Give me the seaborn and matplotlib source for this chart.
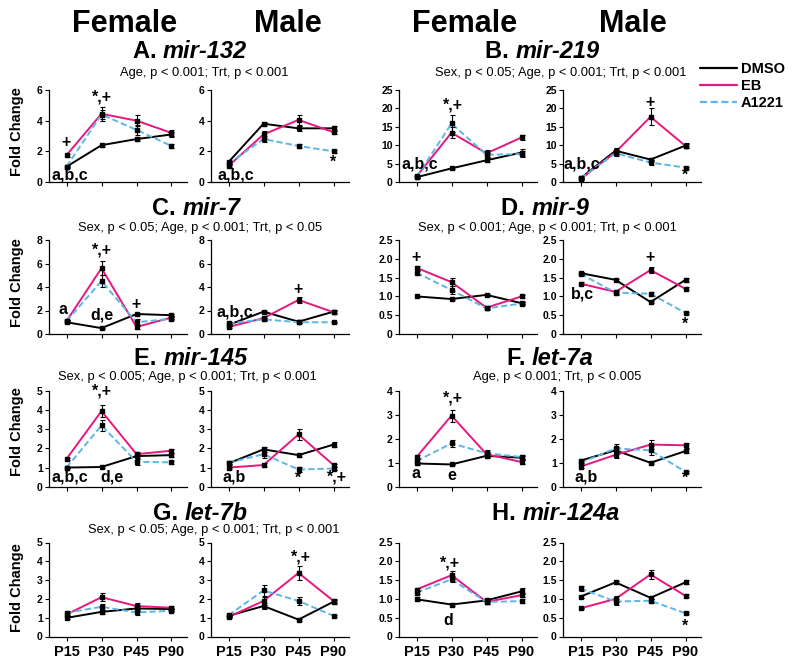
import numpy as np
import pandas as pd
import matplotlib
matplotlib.use("Agg")
import matplotlib.pyplot as plt
import seaborn as sns
from matplotlib.lines import Line2D

# Ages en traitements
ages = ["P15", "P30", "P45", "P90"]
treatments = ["DMSO", "EB", "A1221"]

# Fold change (rows: DMSO, EB, A1221) and SEM
mir132_f = [[1.0, 2.4, 2.8, 3.1], [1.75, 4.45, 4.0, 3.2], [1.0, 4.4, 3.4, 2.35]]
mir132_f_se = [[0.08, 0.1, 0.12, 0.15], [0.1, 0.45, 0.35, 0.2], [0.05, 0.3, 0.35, 0.1]]
mir132_m = [[1.3, 3.8, 3.5, 3.5], [1.05, 3.1, 4.05, 3.25], [1.2, 2.8, 2.35, 2.0]]
mir132_m_se = [[0.1, 0.12, 0.15, 0.15], [0.1, 0.2, 0.3, 0.15], [0.1, 0.2, 0.15, 0.08]]

mir219_f = [[1.3, 3.7, 5.9, 8.0], [1.5, 13.4, 7.8, 12.1], [1.3, 15.9, 7.4, 7.6]]
mir219_f_se = [[0.3, 0.3, 0.5, 1.0], [0.4, 1.5, 1.0, 0.8], [0.3, 2.2, 0.6, 0.8]]
mir219_m = [[1.0, 8.5, 6.1, 9.9], [0.8, 8.1, 17.7, 9.8], [1.0, 7.8, 5.3, 3.9]]
mir219_m_se = [[0.3, 0.8, 0.5, 0.6], [0.3, 0.6, 2.3, 0.6], [0.3, 0.8, 0.6, 0.3]]

mir7_f = [[1.0, 0.5, 1.7, 1.6], [1.1, 5.6, 0.6, 1.4], [1.1, 4.5, 1.0, 1.3]]
mir7_f_se = [[0.1, 0.05, 0.1, 0.1], [0.1, 0.6, 0.15, 0.15], [0.1, 0.5, 0.25, 0.15]]
mir7_m = [[0.77, 1.9, 1.05, 1.9], [0.6, 1.35, 2.9, 1.85], [0.9, 1.25, 1.0, 1.0]]
mir7_m_se = [[0.1, 0.1, 0.1, 0.15], [0.1, 0.15, 0.25, 0.15], [0.1, 0.15, 0.1, 0.05]]

mir9_f = [[1.0, 0.93, 1.04, 0.82], [1.76, 1.38, 0.7, 1.0], [1.63, 1.17, 0.68, 0.81]]
mir9_f_se = [[0.02, 0.02, 0.02, 0.03], [0.05, 0.1, 0.03, 0.03], [0.05, 0.1, 0.03, 0.03]]
mir9_m = [[1.62, 1.44, 0.85, 1.44], [1.34, 1.12, 1.7, 1.2], [1.6, 1.1, 1.07, 0.56]]
mir9_m_se = [[0.04, 0.03, 0.03, 0.05], [0.03, 0.05, 0.07, 0.04], [0.04, 0.05, 0.05, 0.02]]

mir145_f = [[1.0, 1.03, 1.6, 1.65], [1.45, 3.95, 1.7, 1.88], [1.0, 3.2, 1.3, 1.27]]
mir145_f_se = [[0.03, 0.03, 0.1, 0.12], [0.05, 0.3, 0.1, 0.1], [0.03, 0.3, 0.15, 0.07]]
mir145_m = [[1.22, 1.95, 1.65, 2.2], [1.0, 1.13, 2.73, 1.13], [1.25, 1.7, 0.9, 0.95]]
mir145_m_se = [[0.08, 0.12, 0.08, 0.12], [0.05, 0.1, 0.3, 0.08], [0.08, 0.2, 0.12, 0.1]]

let7a_f = [[0.97, 0.93, 1.29, 1.21], [1.24, 2.97, 1.36, 1.03], [1.07, 1.81, 1.4, 1.24]]
let7a_f_se = [[0.08, 0.03, 0.08, 0.08], [0.1, 0.25, 0.1, 0.08], [0.08, 0.15, 0.15, 0.1]]
let7a_m = [[1.09, 1.52, 1.0, 1.49], [0.84, 1.33, 1.76, 1.73], [1.0, 1.6, 1.52, 0.62]]
let7a_m_se = [[0.08, 0.15, 0.05, 0.1], [0.05, 0.15, 0.2, 0.1], [0.1, 0.2, 0.2, 0.03]]

let7b_f = [[0.99, 1.31, 1.49, 1.46], [1.17, 2.09, 1.62, 1.53], [1.26, 1.58, 1.28, 1.37]]
let7b_f_se = [[0.08, 0.1, 0.15, 0.08], [0.1, 0.2, 0.15, 0.08], [0.1, 0.15, 0.15, 0.08]]
let7b_m = [[1.1, 1.62, 0.9, 1.85], [1.04, 1.89, 3.38, 1.89], [1.13, 2.45, 1.89, 1.1]]
let7b_m_se = [[0.05, 0.15, 0.05, 0.1], [0.05, 0.2, 0.35, 0.1], [0.05, 0.3, 0.2, 0.05]]

mir124a_f = [[0.99, 0.85, 0.96, 1.2], [1.25, 1.63, 0.92, 1.1], [1.17, 1.52, 0.92, 0.94]]
mir124a_f_se = [[0.05, 0.03, 0.04, 0.08], [0.05, 0.1, 0.05, 0.05], [0.05, 0.08, 0.05, 0.05]]
mir124a_m = [[1.06, 1.44, 1.03, 1.44], [0.75, 1.0, 1.65, 1.08], [1.28, 0.93, 0.95, 0.62]]
mir124a_m_se = [[0.04, 0.04, 0.04, 0.05], [0.02, 0.08, 0.12, 0.04], [0.06, 0.08, 0.05, 0.02]]

# significance letters (text, x index, y)
notes_a = ([("+", 0, 2.55), ("*,+", 1, 5.55), ("a,b,c", 0.1, 0.45)],
           [("a,b,c", 0.2, 0.45), ("*", 3, 1.3)])
notes_b = ([("a,b,c", 0.1, 4.8), ("*,+", 1.05, 21)],
           [("a,b,c", 0.03, 4.8), ("+", 2, 21.5), ("*", 3, 1.9)])
notes_c = ([("a", -0.1, 2.05), ("*,+", 1, 7.15), ("d,e", 1, 1.6), ("+", 2, 2.55)],
           [("a,b,c", 0.17, 1.9), ("+", 2, 3.8)])
notes_d = ([("+", 0, 2.04)],
           [("+", 2, 2.04), ("b,c", 0.05, 1.07), ("*", 3, 0.26)])
notes_e = ([("a,b,c", 0.1, 0.5), ("d,e", 1.3, 0.5), ("*,+", 1, 5.0)],
           [("a,b", 0.15, 0.5), ("*", 2, 0.45), ("*,+", 3.1, 0.5)])
notes_f = ([("*,+", 1.05, 3.7), ("a", 0, 0.55), ("e", 1, 0.47)],
           [("a,b", 0.17, 0.4), ("*", 3, 0.35)])
notes_g = ([], [("*,+", 2.08, 4.25)])
notes_h = ([("*,+", 0.95, 1.96), ("d", 0.9, 0.42)], [("*", 3, 0.28)])

panels = [
    ("A.", "mir-132", "Age, p < 0.001; Trt, p < 0.001", 6, 2,
     mir132_f, mir132_f_se, mir132_m, mir132_m_se, notes_a, 190, 204),
    ("B.", "mir-219", "Sex, p < 0.05; Age, p < 0.001; Trt, p < 0.001", 25, 5,
     mir219_f, mir219_f_se, mir219_m, mir219_m_se, notes_b, 542, 561),
    ("C.", "mir-7", "Sex, p < 0.05; Age, p < 0.001; Trt, p < 0.05", 8, 2,
     mir7_f, mir7_f_se, mir7_m, mir7_m_se, notes_c, 196, 200),
    ("D.", "mir-9", "Sex, p < 0.001; Age, p < 0.001; Trt, p < 0.001", 2.5, 0.5,
     mir9_f, mir9_f_se, mir9_m, mir9_m_se, notes_d, 545, 547),
    ("E.", "mir-145", "Sex, p < 0.005; Age, p < 0.001; Trt, p < 0.001", 5, 1,
     mir145_f, mir145_f_se, mir145_m, mir145_m_se, notes_e, 191, 187),
    ("F.", "let-7a", "Age, p < 0.001; Trt, p < 0.005", 4, 1,
     let7a_f, let7a_f_se, let7a_m, let7a_m_se, notes_f, 550, 557),
    ("G.", "let-7b", "Sex, p < 0.05; Age, p < 0.001; Trt, p < 0.001", 5, 1,
     let7b_f, let7b_f_se, let7b_m, let7b_m_se, notes_g, 200, 214),
    ("H.", "mir-124a", None, 2.5, 0.5,
     mir124a_f, mir124a_f_se, mir124a_m, mir124a_m_se, notes_h, 556, None),
]

sns.set_style("ticks")
plt.rcParams["font.family"] = ["Liberation Sans", "DejaVu Sans"]
plt.rcParams.update({"text.color": "black", "axes.edgecolor": "black",
                     "xtick.color": "black", "ytick.color": "black",
                     "axes.labelcolor": "black"})

W, H = 800, 664
fig = plt.figure(figsize=(8, 6.64), dpi=100)

palette = {"DMSO": "black", "EB": "#E6177F", "A1221": "#5DB6E6"}
dash_map = {"DMSO": "", "EB": "", "A1221": (3.2, 1.6)}

rows = [(90, 182), (240, 334), (391, 486.7), (542.5, 636.5)]
col_left = [[49, 211], [399, 563]]
ax_w = 138
title_base = [58.5, 215.5, 365, 520]
sub_base = [76, 231, 380, 533]
ylab_y = [132, 283, 432, 588]


def fmt_tick(v, step):
    if v == 0:
        return "0"
    return f"{v:.1f}" if step < 1 else f"{int(v)}"


def draw_panel(ax, means, sems, ymax, step, notes, bottom):
    df = pd.DataFrame({
        "age": np.tile(np.arange(len(ages)), len(treatments)),
        "fold": np.concatenate(means),
        "trt": np.repeat(treatments, len(ages)),
    })
    sns.lineplot(data=df, x="age", y="fold", hue="trt", style="trt",
                 palette=palette, dashes=dash_map, linewidth=1.4,
                 legend=False, errorbar=None, ax=ax)
    for m, s in zip(means, sems):
        ax.errorbar(np.arange(len(ages)), m, yerr=s, fmt="s", ms=2.3,
                    color="black", elinewidth=0.8, capsize=1.8,
                    capthick=0.8, zorder=4)
    ax.set_xlim(-0.5, -0.5 + ax_w / 35.0)
    ax.set_ylim(0, ymax)
    yt = np.arange(0, ymax + step / 2, step)
    ax.set_yticks(yt)
    ax.set_yticklabels([fmt_tick(v, step) for v in yt])
    ax.set_xticks(range(len(ages)))
    ax.set_xticklabels(ages if bottom else [""] * len(ages))
    ax.set_xlabel("")
    ax.set_ylabel("")
    sns.despine(ax=ax)
    for sp in ax.spines.values():
        sp.set_linewidth(0.9)
    ax.tick_params(axis="y", length=3, width=0.8, pad=1.5, labelsize=7.5)
    ax.tick_params(axis="x", length=3, width=0.8, pad=3, labelsize=10.5)
    for lab in ax.get_yticklabels() + ax.get_xticklabels():
        lab.set_fontweight("bold")
    for txt, x, y in notes:
        ax.text(x, y, txt, ha="center", va="center", fontsize=11.5,
                fontweight="bold", zorder=5)


renderer = fig.canvas.get_renderer()


def split_title(cx, base, prefix, name):
    t1 = fig.text(0, 1 - base / H, prefix + " ", fontsize=17, fontweight="bold",
                  va="baseline")
    t2 = fig.text(0, 1 - base / H, name, fontsize=17, fontweight="bold",
                  style="italic", va="baseline")
    w1 = t1.get_window_extent(renderer).width
    w2 = t2.get_window_extent(renderer).width
    x0 = cx - (w1 + w2) / 2
    t1.set_x(x0 / W)
    t2.set_x((x0 + w1) / W)


for i, p in enumerate(panels):
    letter, name, sub, ymax, step, fm, fse, mm, mse, notes, tcx, scx = p
    r, c = divmod(i, 2)
    top, bot = rows[r]
    for k, (means, sems) in enumerate([(fm, fse), (mm, mse)]):
        left = col_left[c][k]
        ax = fig.add_axes([left / W, 1 - bot / H, ax_w / W, (bot - top) / H])
        draw_panel(ax, means, sems, ymax, step, notes[k], r == 3)
    split_title(tcx, title_base[r], letter, name)
    if sub:
        fig.text(scx / W, 1 - sub_base[r] / H, sub, ha="center", va="baseline",
                 fontsize=9.3)

for r in range(4):
    fig.text(17 / W, 1 - ylab_y[r] / H, "Fold Change", rotation=90, ha="center",
             va="center", fontsize=10.5, fontweight="bold")

for cx, lab in [(125, "Female"), (288, "Male"), (465, "Female"), (633, "Male")]:
    fig.text(cx / W, 1 - 32 / H, lab, ha="center", va="baseline", fontsize=22,
             fontweight="bold")

# legend
for yc, t in zip([68, 85, 102], treatments):
    ls = "-" if t != "A1221" else (0, (3.2, 1.6))
    fig.add_artist(Line2D([700 / W, 737 / W], [1 - yc / H] * 2, color=palette[t],
                          lw=1.6, linestyle=ls))
    fig.text(741 / W, 1 - (yc + 5) / H, t, fontsize=10.5, fontweight="bold",
             va="baseline")

fig.savefig("out.png", dpi=100)
